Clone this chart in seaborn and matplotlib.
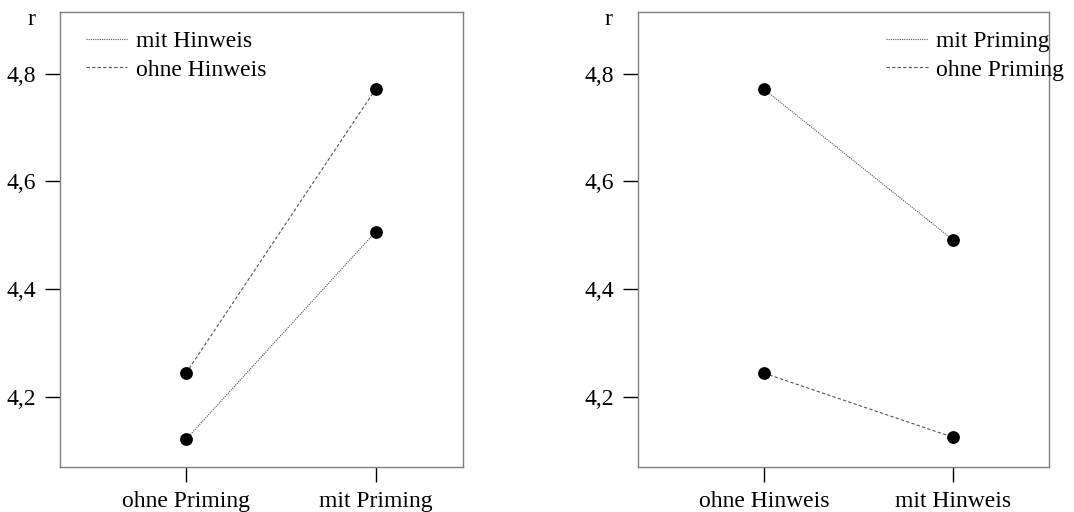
import matplotlib
matplotlib.use("Agg")
import matplotlib.pyplot as plt
import seaborn as sns
import pandas as pd

# Daten (Mittelwerte r)
priming_cats = ['ohne Priming', 'mit Priming']
hinweis_cats = ['ohne Hinweis', 'mit Hinweis']

# links: x = Priming, Linien = Hinweis
left_mit_hinweis = [4.121, 4.507]
left_ohne_hinweis = [4.244, 4.772]

# rechts: x = Hinweis, Linien = Priming
right_mit_priming = [4.771, 4.491]
right_ohne_priming = [4.244, 4.125]

yticks = [4.2, 4.4, 4.6, 4.8]
ytick_labels = ['4,2', '4,4', '4,6', '4,8']

sns.set_style('white')
plt.rcParams['font.family'] = ['Liberation Serif', 'DejaVu Serif']
plt.rcParams['text.color'] = 'black'
plt.rcParams['xtick.labelcolor'] = 'black'
plt.rcParams['ytick.labelcolor'] = 'black'

fig = plt.figure(figsize=(10.74, 5.12), dpi=100)
ax1 = fig.add_axes([0.0559, 0.088, 0.375, 0.889])
ax2 = fig.add_axes([0.594, 0.088, 0.383, 0.889])


def panel(ax, cats, names, series, legend_kw, xlim):
    rows = []
    for name, vals in zip(names, series):
        for i, v in enumerate(vals):
            rows.append({'pos': i, 'r': v, 'gruppe': name})
    df = pd.DataFrame(rows)
    sns.lineplot(data=df, x='pos', y='r', style='gruppe', style_order=names,
                 dashes={names[0]: (1, 1), names[1]: (3, 2)},
                 color='#555555', linewidth=0.8, ax=ax, legend=True)
    sns.scatterplot(data=df, x='pos', y='r', color='black', s=85,
                    edgecolor='black', linewidth=0, ax=ax, legend=False, zorder=3)
    ax.set_xticks(range(len(cats)))
    ax.set_xticklabels(cats)
    ax.set_yticks(yticks)
    ax.set_yticklabels(ytick_labels)
    ax.set_xlim(*xlim)
    ax.set_ylim(4.070, 4.915)
    ax.set_xlabel('')
    ax.set_ylabel('')
    for sp in ax.spines.values():
        sp.set_color('#808080')
        sp.set_linewidth(1.0)
    ax.tick_params(axis='both', which='major', direction='out', length=11,
                   width=1, color='black', labelsize=17, pad=6,
                   bottom=True, left=True)
    handles, labels = ax.get_legend_handles_labels()
    ax.legend(handles, labels, frameon=False, fontsize=17, handlelength=1.75,
              handletextpad=0.35, labelspacing=0.28, borderpad=0, **legend_kw)
    ax.text(-0.072, 0.983, 'r', transform=ax.transAxes, fontsize=17,
            ha='center', va='center')


panel(ax1, priming_cats, ['mit Hinweis', 'ohne Hinweis'],
      [left_mit_hinweis, left_ohne_hinweis],
      dict(loc='upper left', bbox_to_anchor=(0.035, 0.984)), (-0.663, 1.458))
panel(ax2, hinweis_cats, ['mit Priming', 'ohne Priming'],
      [right_mit_priming, right_ohne_priming],
      dict(loc='upper right', bbox_to_anchor=(1.064, 0.984)), (-0.667, 1.508))

plt.savefig('out.png', dpi=100)
